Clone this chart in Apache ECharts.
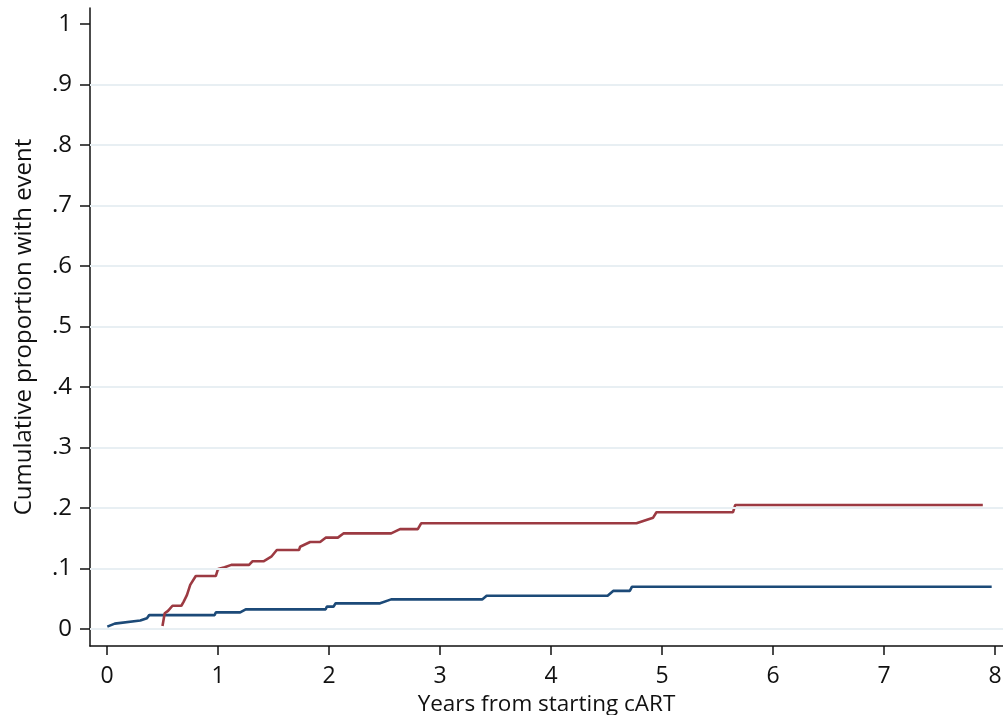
<!DOCTYPE html>
<html>
<head>
<meta charset="utf-8">
<script src="https://cdn.jsdelivr.net/npm/echarts@6/dist/echarts.min.js"></script>
<style>
html,body{margin:0;padding:0;background:#fff;}
#chart{width:1003px;height:715px;}
</style>
</head>
<body>
<div id="chart"></div>
<script>
// Data
const blueYears  = [0.003,0.07,0.30,0.36,0.38,0.97,0.98,1.20,1.25,1.97,1.98,2.04,2.06,2.46,2.56,3.38,3.42,4.51,4.56,4.71,4.73,7.97];
const blueValues = [0.004,0.009,0.014,0.018,0.023,0.023,0.0275,0.0275,0.0325,0.0325,0.037,0.037,0.0425,0.0425,0.049,0.049,0.055,0.055,0.063,0.063,0.070,0.070];
const redYears   = [0.50,0.52,0.55,0.59,0.67,0.69,0.72,0.75,0.80,0.98,1.00,1.06,1.12,1.28,1.31,1.41,1.48,1.53,1.73,1.74,1.83,1.92,1.97,2.08,2.13,2.56,2.64,2.80,2.83,4.77,4.92,4.95,5.64,5.66,7.89];
const redValues  = [0.005,0.026,0.030,0.0385,0.0385,0.045,0.056,0.073,0.0876,0.0876,0.099,0.102,0.106,0.106,0.112,0.112,0.1195,0.1306,0.1306,0.136,0.1438,0.1438,0.151,0.151,0.158,0.158,0.165,0.165,0.1747,0.1747,0.184,0.193,0.193,0.205,0.205];
const xTicks = [0,1,2,3,4,5,6,7,8];
const yTicks = [0,0.1,0.2,0.3,0.4,0.5,0.6,0.7,0.8,0.9,1];
const yGridValues = [0,0.1,0.2,0.3,0.4,0.5,0.6,0.7,0.8,0.9];
const xTitle = 'Years from starting cART';
const yTitle = 'Cumulative proportion with event';

const FONT = '"Open Sans", sans-serif';
const zip = (a, b) => a.map((v, i) => [v, b[i]]);
const fmtY = v => {
  const r = Math.round(v * 10);
  if (r === 0) return '0';
  if (r === 10) return '1';
  return '.' + r;
};

const chart = echarts.init(document.getElementById('chart'), null, {renderer: 'canvas'});
chart.setOption({
  animation: false,
  backgroundColor: '#ffffff',
  grid: {left: 90, right: 0, top: 8, bottom: 69, containLabel: false, outerBoundsMode: 'none'},
  xAxis: {
    type: 'value', min: -0.153, max: 8.072,
    name: xTitle, nameLocation: 'middle', nameGap: 42,
    nameTextStyle: {fontFamily: FONT, fontSize: 22.5, color: '#111'},
    axisLine: {show: true, onZero: false, lineStyle: {color: '#111', width: 1.5}},
    axisTick: {show: true, customValues: xTicks, length: 9, lineStyle: {color: '#111', width: 1.5}},
    axisLabel: {customValues: xTicks, fontFamily: FONT, fontSize: 23, color: '#111', margin: 19,
      formatter: v => String(Math.round(v))},
    splitLine: {show: false}
  },
  yAxis: {
    type: 'value', min: -0.028, max: 1.026,
    name: yTitle, nameLocation: 'middle', nameGap: 54, nameRotate: 90,
    nameTextStyle: {fontFamily: FONT, fontSize: 24, color: '#111'},
    axisLine: {show: true, onZero: false, lineStyle: {color: '#111', width: 1.5}},
    axisTick: {show: true, customValues: yTicks, length: 10, lineStyle: {color: '#111', width: 1.5}},
    axisLabel: {customValues: yTicks, fontFamily: FONT, fontSize: 24, color: '#111', margin: 18,
      formatter: v => fmtY(v)},
    splitLine: {show: false}
  },
  series: [
    {
      type: 'line', data: [], silent: true, z: 1,
      markLine: {
        silent: true, symbol: ['none', 'none'], label: {show: false},
        lineStyle: {color: '#e8eff3', width: 2, type: 'solid'},
        emphasis: {disabled: true},
        data: yGridValues.map(v => ({yAxis: v}))
      }
    },
    {
      type: 'line', data: zip(blueYears, blueValues), showSymbol: false, symbol: 'none', z: 3,
      lineStyle: {color: '#1c4a78', width: 2.6}, itemStyle: {color: '#1c4a78'}
    },
    {
      type: 'line', data: zip(redYears, redValues), showSymbol: false, symbol: 'none', z: 4,
      lineStyle: {color: '#9c3a42', width: 2.6}, itemStyle: {color: '#9c3a42'}
    }
  ]
});
</script>
</body>
</html>
